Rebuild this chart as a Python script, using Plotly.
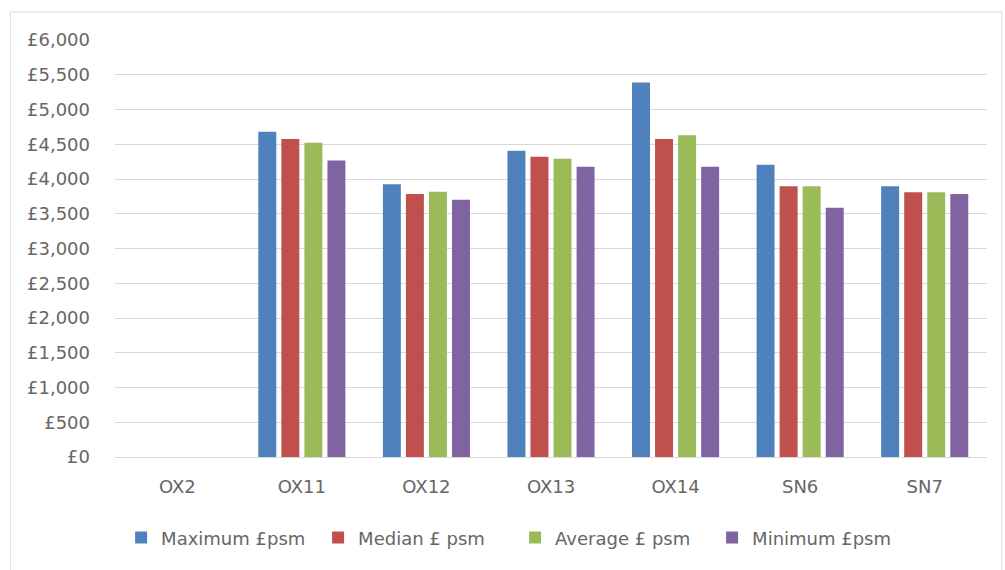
import plotly.graph_objects as go

# Postcode districts and price per square metre by statistic
districts = ["OX2", "OX11", "OX12", "OX13", "OX14", "SN6", "SN7"]
maximum_psm = [None, 4680, 3925, 4405, 5390, 4205, 3895]
median_psm = [None, 4575, 3785, 4320, 4575, 3895, 3810]
average_psm = [None, 4520, 3815, 4290, 4630, 3895, 3810]
minimum_psm = [None, 4265, 3700, 4175, 4175, 3585, 3785]

y_ticks = list(range(0, 6001, 500))
y_tick_text = ["£" + format(v, ",") for v in y_ticks]

series = [
    ("Maximum £psm", maximum_psm, "#4F81BD"),
    ("Median £ psm", median_psm, "#C0504D"),
    ("Average £ psm", average_psm, "#9BBB59"),
    ("Minimum £psm", minimum_psm, "#8064A2"),
]

fig = go.Figure()
for name, vals, color in series:
    fig.add_trace(go.Bar(x=districts, y=vals, name=name, marker_color=color,
                         marker_line_width=0))

font_family = "'DejaVu Sans', sans-serif"
text_color = "#666666"
fig.update_layout(
    width=1005, height=570,
    margin=dict(l=115, r=18, t=40, b=113),
    paper_bgcolor="white", plot_bgcolor="white",
    barmode="group", bargap=0.26, bargroupgap=0.22,
    font=dict(family=font_family, size=18, color=text_color),
    showlegend=True,
    legend=dict(orientation="h", x=0.007, xanchor="left", y=-0.194, yanchor="middle",
                font=dict(size=18, color=text_color), traceorder="normal",
                itemwidth=30, entrywidth=152, entrywidthmode="pixels"),
    xaxis=dict(showgrid=False, showline=True, linecolor="#D9D9D9", linewidth=1,
               ticks="", tickfont=dict(size=18, color=text_color), ticklabelstandoff=13),
    yaxis=dict(range=[0, 6000], tickvals=y_ticks, ticktext=y_tick_text,
               showgrid=True, gridcolor="#D9D9D9", gridwidth=1, zeroline=False,
               ticks="", tickfont=dict(size=18, color=text_color), ticklabelstandoff=24),
    shapes=[dict(type="rect", xref="paper", yref="paper",
                 x0=-0.120, x1=1.017, y0=-0.35, y1=1.067,
                 line=dict(color="#D9D9D9", width=1), fillcolor="rgba(0,0,0,0)",
                 layer="below")],
)

fig.write_html("out.html")
